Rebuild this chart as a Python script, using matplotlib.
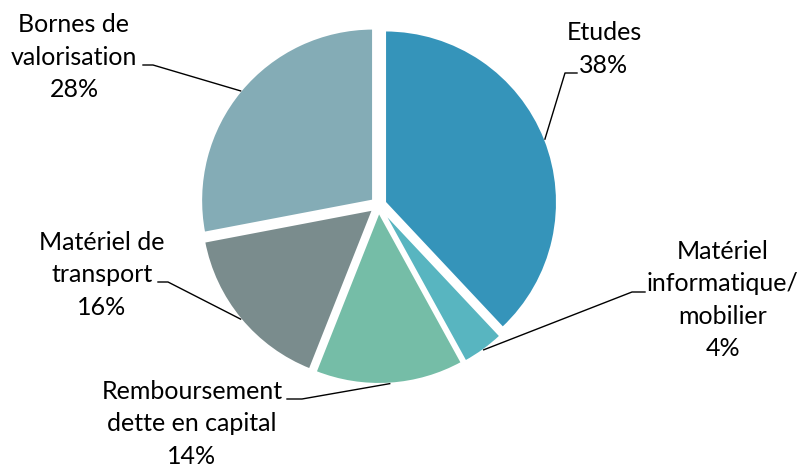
import numpy as np
import matplotlib
matplotlib.use("Agg")
import matplotlib.pyplot as plt

plt.rcParams['font.family'] = ['Lato', 'DejaVu Sans']

W, H = 803, 467

categories = ['Etudes', 'Matériel\ninformatique/\nmobilier', 'Remboursement\ndette en capital',
              'Matériel de\ntransport', 'Bornes de\nvalorisation']
shares = [38, 4, 14, 16, 28]
colors = ['#3594BA', '#58B5C0', '#75BDA7', '#7A8C8D', '#84ACB6']

# label block centre and leader elbow (pixels from top-left)
label_pos = [(604, 49), (723, 300), (192, 424), (102, 275), (74, 57)]
elbows = [((577, 73), (565, 73)), ((645, 292), (632, 292)), ((287, 399), (302, 399)),
          ((158, 282), (168, 282)), ((143, 65), (153, 65))]

cx, cy, r = 378.5, 205, 172

fig = plt.figure(figsize=(W / 100, H / 100), dpi=100)
ax = fig.add_axes([0, 0, 1, 1])
# explode is in data units here (pixels)
wedges, _ = ax.pie(shares, colors=colors, startangle=90, counterclock=False,
                   radius=r, center=(cx, H - cy), explode=[7] * len(shares),
                   wedgeprops=dict(linewidth=1.5, edgecolor='white'))
ax.set_xlim(0, W)
ax.set_ylim(0, H)
ax.set_aspect('equal')
ax.axis('off')

for w, lab, v, (lx, ly), (p0, p1) in zip(wedges, categories, shares, label_pos, elbows):
    mid = np.deg2rad((w.theta1 + w.theta2) / 2)
    ax_, ay_ = w.center[0] + w.r * np.cos(mid), w.center[1] + w.r * np.sin(mid)
    ax.plot([p0[0], p1[0], ax_], [H - p0[1], H - p1[1], ay_], color='black', lw=1)
    ax.text(lx, H - ly, lab + '\n' + f'{v}%', ha='center', va='center',
            fontsize=18, linespacing=1.5, color='black')

fig.savefig('out.png', dpi=100)
